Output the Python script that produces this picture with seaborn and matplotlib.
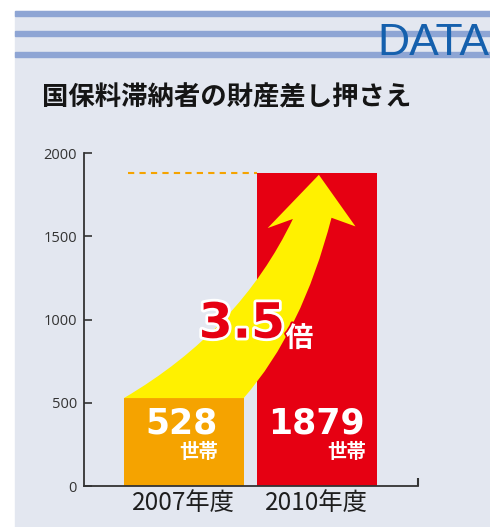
import numpy as np
import pandas as pd
import seaborn as sns
import matplotlib.pyplot as plt
from matplotlib.patches import Rectangle, PathPatch
from matplotlib.path import Path
import matplotlib.patheffects as pe

# Data
years = ["2007年度", "2010年度"]
households = [528, 1879]
value_labels = ["528", "1879"]
unit_label = "世帯"
ratio_label = "3.5"
ratio_unit = "倍"
yticks = [0, 500, 1000, 1500, 2000]

title = "国保料滞納者の財産差し押さえ"
corner = "DATA"

panel_col = "#e3e7f0"
stripe_col = "#8ea5d4"
orange = "#f5a300"
red = "#e60012"
yellow = "#fff100"

sns.set_theme(style = "white")
plt.rcParams["font.family"] = ["DejaVu Sans", "Noto Sans CJK JP"]

W, H = 490, 527
fig = plt.figure(figsize = (W / 100, H / 100), dpi = 100, facecolor = "white")

# Background panel with header stripes
fig.patches.append(Rectangle((15 / W, 0), 1 - 15 / W, 1 - 11 / H,
                             transform = fig.transFigure, color = panel_col, zorder = -3))
for top in [11, 31, 52]:
    fig.patches.append(Rectangle((15 / W, 1 - (top + 5) / H), 1 - 15 / W, 5 / H,
                                 transform = fig.transFigure, color = stripe_col, zorder = -2))
fig.text(489 / W, 1 - 55 / H, corner, ha = "right", va = "baseline", fontsize = 32,
         family = "Liberation Sans", color = "#1560ad", zorder = 3)
fig.text(42 / W, 1 - 98 / H, title, ha = "left", va = "center", fontsize = 19,
         fontweight = "bold", family = ["Noto Sans CJK JP"], color = "#151515")

# Axes
ax = fig.add_axes([84 / W, 1 - 486 / H, 334 / W, 333 / H])
ax.patch.set_alpha(0)

df = pd.DataFrame({"year": years, "n": households})
sns.barplot(data = df, x = "year", y = "n", hue = "year", palette = [orange, red],
            width = 0.9, saturation = 1, legend = False, linewidth = 0, ax = ax, zorder = 2)

ax.set_xlim(-0.75, 1.76)
ax.set_ylim(0, 2000)
ax.set_yticks(yticks)
ax.set_yticklabels([str(t) for t in yticks], family = "Open Sans", fontsize = 10.5, color = "#333333")
ax.set_xticks(range(len(years)))
ax.set_xticklabels(years, family = ["Noto Sans CJK JP"], fontsize = 17.5, color = "#1e1e1e")
ax.tick_params(axis = "y", direction = "in", length = 6, width = 1.2, color = "#333333", pad = 5, left = True)
ax.tick_params(axis = "x", length = 0, pad = 3)
ax.set_xticks([1.76], minor = True)
ax.tick_params(axis = "x", which = "minor", direction = "in", length = 6, width = 1.5,
               color = "#333333", bottom = True)
ax.set(xlabel = "", ylabel = "")
sns.despine(ax = ax)
for s in ["left", "bottom"]:
    ax.spines[s].set_color("#333333")
    ax.spines[s].set_linewidth(1.3)

v0, v1 = households
half = 0.45

# Dashed reference line at the 2010 level
ax.plot([-0.42, 1 - half], [v1, v1], color = orange, lw = 1.5, dashes = (3, 2.5), zorder = 1)

# Curved yellow arrow from 2007 bar top to 2010 level
verts = [(-half, v0),
         (0.42, 937), (0.82, v1 - 275),
         (0.63, v1 - 330),
         (1.015, v1 - 10),
         (1.29, v1 - 320),
         (1.11, v1 - 268),
         (0.89, 930), (half, v0),
         (-half, v0)]
codes = [Path.MOVETO, Path.CURVE3, Path.CURVE3, Path.LINETO, Path.LINETO,
         Path.LINETO, Path.LINETO, Path.CURVE3, Path.CURVE3, Path.CLOSEPOLY]
ax.add_patch(PathPatch(Path(verts, codes), facecolor = yellow, edgecolor = "none", zorder = 3))

# Value labels inside the bars
for i, (lab, v) in enumerate(zip(value_labels, households)):
    ax.text(i - 0.02 if i == 0 else i, 375, lab, ha = "center", va = "center", fontsize = 25,
            fontweight = "bold", family = "DejaVu Sans", color = "white", zorder = 4)
right_edges = [0.26, 1.37]
for r in right_edges:
    ax.text(r, 200, unit_label, ha = "right", va = "center", fontsize = 14, fontweight = "bold",
            family = ["Noto Sans CJK JP"], color = "white", zorder = 4)

# Ratio label
ax.text(0.76, 975, ratio_label, ha = "right", va = "center", fontsize = 35, fontweight = "bold",
        family = "DejaVu Sans", color = red, zorder = 5,
        path_effects = [pe.withStroke(linewidth = 4, foreground = "white")])
ax.text(0.765, 885, ratio_unit, ha = "left", va = "center", fontsize = 20, fontweight = "bold",
        family = ["Noto Sans CJK JP"], color = "white", zorder = 5,
        path_effects = [pe.withStroke(linewidth = 2.5, foreground = red)])

fig.savefig("out.png", dpi = 100, facecolor = "white")
